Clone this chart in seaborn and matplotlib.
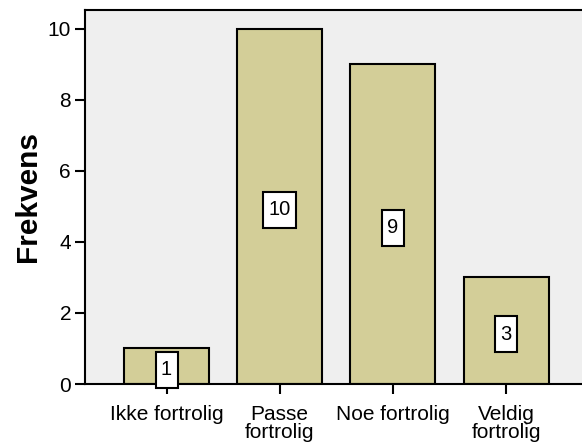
import numpy as np
import pandas as pd
import seaborn as sns
import matplotlib.pyplot as plt
from matplotlib.path import Path

categories = ['Ikke fortrolig', 'Passe\nfortrolig', 'Noe fortrolig', 'Veldig\nfortrolig']
counts = [1, 10, 9, 3]

sns.set_style('white')
plt.rcParams['font.family'] = ['Liberation Sans', 'DejaVu Sans']
plt.rcParams['text.color'] = 'black'


def tall_box(x0, y0, width, height, mutation_size):
    # square box, a bit more vertical padding than horizontal
    px = 0.27 * mutation_size
    py = 0.42 * mutation_size
    x0, y0 = x0 - px, y0 - py
    x1, y1 = x0 + width + 2 * px, y0 + height + 2 * py
    return Path([(x0, y0), (x1, y0), (x1, y1), (x0, y1), (x0, y0)],
                closed=True)


df = pd.DataFrame({'kategori': categories, 'frekvens': counts})

fig = plt.figure(figsize=(5.82, 4.43), dpi=100)
ax = fig.add_axes([85 / 582, 1 - 384 / 443, 1 - 85 / 582, 374 / 443])
ax.set_facecolor('#efefef')

sns.barplot(data=df, x='kategori', y='frekvens', color='#d3ce98', width=0.75,
            edgecolor='black', linewidth=1.5, saturation=1, ax=ax)

# value boxes at half bar height
for i, v in enumerate(counts):
    ax.annotate(str(v), xy=(i, v / 2), xytext=(0, -2.5), textcoords='offset points',
                ha='center', va='center', fontsize=14.5, color='black', zorder=5,
                bbox=dict(boxstyle=tall_box, facecolor='white',
                          edgecolor='black', linewidth=1.5))

ax.set_xlim(-0.72, 3.67)
ax.set_ylim(0, 10.535)
ax.set_yticks([0, 2, 4, 6, 8, 10])
ax.set_xlabel('')
ax.set_ylabel('Frekvens', fontsize=21.5, fontweight='bold', labelpad=4,
              color='black')

ax.tick_params(axis='both', which='both', direction='out', length=7, width=1.5,
               labelsize=15, colors='black', left=True, bottom=True, pad=3)
ax.tick_params(axis='x', pad=8)
for lab in ax.get_xticklabels():
    lab.set_linespacing(0.95)

for side in ['left', 'top', 'bottom']:
    ax.spines[side].set_visible(True)
    ax.spines[side].set_color('black')
    ax.spines[side].set_linewidth(1.5)
ax.spines['right'].set_visible(False)

fig.savefig('out.png', dpi=100, facecolor='white')
